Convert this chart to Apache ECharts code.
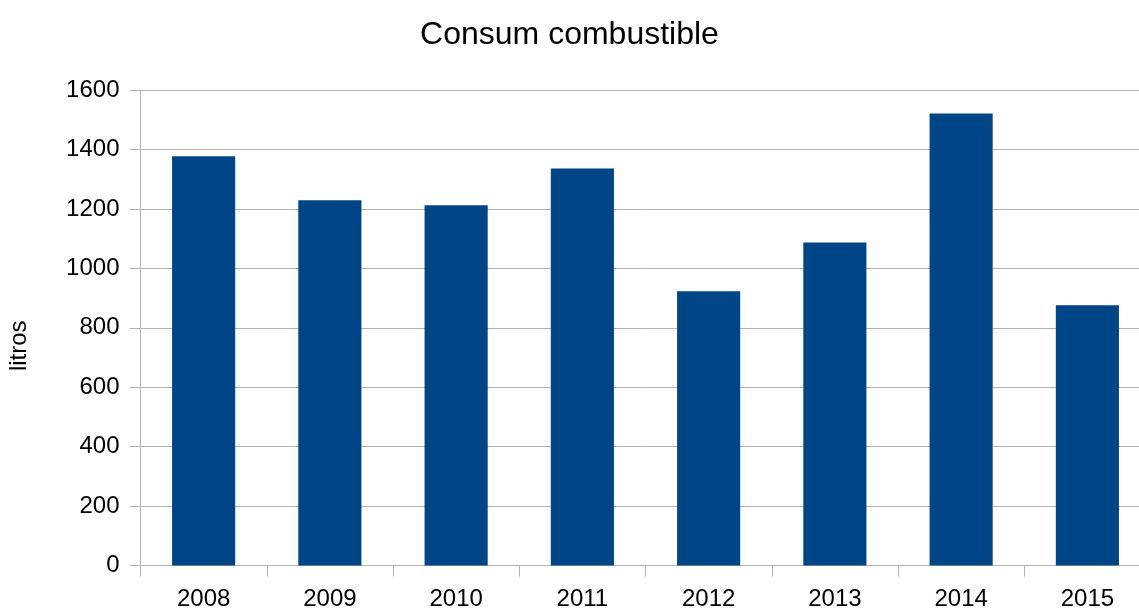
<!DOCTYPE html>
<html>
<head>
<meta charset="utf-8">
<title>Consum combustible</title>
<script src="https://cdn.jsdelivr.net/npm/echarts@6/dist/echarts.min.js"></script>
<style>
  html, body { margin: 0; padding: 0; background: #ffffff; }
  #chart { width: 1139px; height: 610px; }
</style>
</head>
<body>
<div id="chart"></div>
<script>
// Annual fuel consumption, in litres
const years = ['2008', '2009', '2010', '2011', '2012', '2013', '2014', '2015'];
const litres = [1377, 1229, 1212, 1336, 923, 1087, 1521, 876];
const yTicks = { min: 0, max: 1600, interval: 200 };

const FONT = '"Liberation Sans", Arial, sans-serif';
const GRID_GREY = '#b3b3b3';

const chart = echarts.init(document.getElementById('chart'), null, { renderer: 'canvas' });
chart.setOption({
  animation: false,
  backgroundColor: '#ffffff',
  title: {
    text: 'Consum combustible',
    left: 'center',
    top: 14,
    textStyle: { fontFamily: FONT, fontSize: 32, fontWeight: 'normal', color: '#000000' }
  },
  // the plot area runs slightly past the right edge of the canvas
  grid: { left: 140.5, top: 90, width: 1010, bottom: 44.5, containLabel: false, outerBoundsMode: 'none' },
  xAxis: {
    type: 'category',
    data: years,
    axisLine: { show: true, lineStyle: { color: GRID_GREY, width: 1 } },
    axisTick: { show: true, length: 11, lineStyle: { color: GRID_GREY } },
    axisLabel: { fontFamily: FONT, fontSize: 24, color: '#000000', margin: 22 },
    splitLine: { show: false }
  },
  yAxis: {
    type: 'value',
    min: yTicks.min,
    max: yTicks.max,
    interval: yTicks.interval,
    name: 'litros',
    nameLocation: 'middle',
    nameGap: 109,
    nameRotate: 90,
    // extra padding at the top end nudges the rotated name a little lower
    nameTextStyle: { fontFamily: FONT, fontSize: 24, color: '#000000', padding: [0, 36, 0, 0] },
    axisLine: { show: true, lineStyle: { color: GRID_GREY, width: 1 } },
    axisTick: { show: true, length: 11, lineStyle: { color: GRID_GREY } },
    axisLabel: { fontFamily: FONT, fontSize: 24, color: '#000000', margin: 21, formatter: v => String(v) },
    splitLine: { show: true, lineStyle: { color: GRID_GREY, width: 1 } }
  },
  series: [{
    type: 'bar',
    data: litres,
    barWidth: '50%',
    itemStyle: { color: '#004586' }
  }]
});
</script>
</body>
</html>
